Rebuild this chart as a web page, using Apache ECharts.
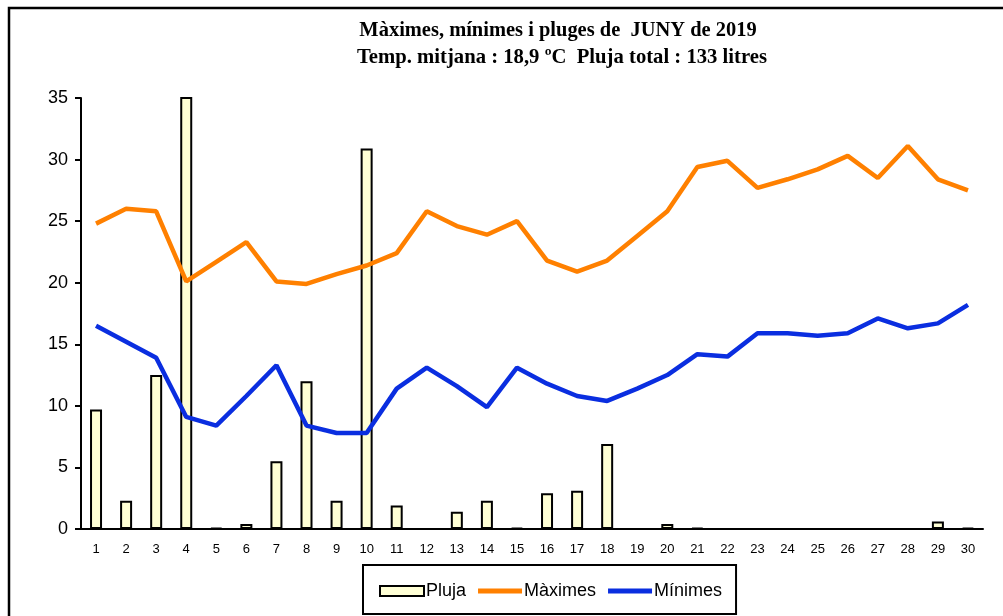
<!DOCTYPE html>
<html>
<head>
<meta charset="utf-8">
<script src="https://cdn.jsdelivr.net/npm/echarts@6/dist/echarts.min.js"></script>
<style>
  html, body { margin: 0; padding: 0; background: #fff; }
  #chart { width: 1003px; height: 616px; }
</style>
</head>
<body>
<div id="chart"></div>
<script>
// dies del mes
const dies = ['1','2','3','4','5','6','7','8','9','10','11','12','13','14','15',
  '16','17','18','19','20','21','22','23','24','25','26','27','28','29','30']
// pluja (litres)
const pluja = [9.7, 2.3, 12.5, 37.5, 0.1, 0.4, 5.5, 12.0, 2.3, 30.9, 1.9, 0, 1.4, 2.3, 0.1,
  2.9, 3.1, 6.9, 0, 0.4, 0.1, 0, 0, 0, 0, 0, 0, 0, 0.6, 0.1]
// temperatures maximes
const maximes = [24.8, 26.0, 25.8, 20.1, 21.7, 23.3, 20.1, 19.9, 20.7, 21.4, 22.4, 25.8, 24.6, 23.9, 25.0,
  21.8, 20.9, 21.8, 23.8, 25.8, 29.4, 29.9, 27.7, 28.4, 29.2, 30.3, 28.5, 31.1, 28.4, 27.5]
// temperatures minimes
const minimes = [16.5, 15.2, 13.9, 9.1, 8.4, 10.8, 13.3, 8.4, 7.8, 7.8, 11.4, 13.1, 11.6, 9.9, 13.1,
  11.8, 10.8, 10.4, 11.4, 12.5, 14.2, 14.0, 15.9, 15.9, 15.7, 15.9, 17.1, 16.3, 16.7, 18.2]

const titol1 = 'Màximes, mínimes i pluges de  JUNY de 2019'
const titol2 = 'Temp. mitjana : 18,9 ºC  Pluja total : 133 litres'

const titleFont = 'bold 22px "Liberation Serif"'
// icona de linia per a la llegenda (5px d'alt)
const lineIcon = 'path://M0,0H88V10H0Z'

const chart = echarts.init(document.getElementById('chart'))

const option = {
  animation: false,
  graphic: [
    {
      type: 'rect',
      shape: { x: 9, y: 8, width: 1010, height: 630 },
      style: { fill: 'none', stroke: '#000', lineWidth: 2.5 },
      silent: true
    },
    {
      type: 'text',
      x: 558, y: 30,
      scaleX: 0.93,
      style: { text: titol1, font: titleFont, fill: '#000', align: 'center', verticalAlign: 'middle' }
    },
    {
      type: 'text',
      x: 562, y: 57,
      scaleX: 0.94,
      style: { text: titol2, font: titleFont, fill: '#000', align: 'center', verticalAlign: 'middle' }
    }
  ],
  legend: {
    left: 363,
    top: 565,
    padding: [17, 14, 14, 16],
    borderColor: '#000',
    borderWidth: 2,
    itemWidth: 44,
    itemHeight: 10,
    itemGap: 12,
    textStyle: { fontFamily: 'Liberation Sans', fontSize: 18, color: '#000', padding: [0, 0, 0, -3] },
    data: [
      { name: 'Pluja', icon: 'rect' },
      { name: 'Màximes', icon: lineIcon },
      { name: 'Mínimes', icon: lineIcon }
    ]
  },
  grid: { left: 81, right: 20, top: 98, bottom: 87 },
  xAxis: {
    type: 'category',
    data: dies,
    axisLine: { lineStyle: { color: '#000', width: 2 } },
    axisTick: { length: 6, lineStyle: { color: '#000', width: 2 } },
    axisLabel: { color: '#000', fontFamily: 'Liberation Sans', fontSize: 13, margin: 14 }
  },
  yAxis: {
    type: 'value',
    min: 0,
    max: 35,
    interval: 5,
    splitLine: { show: false },
    axisLine: { show: true, lineStyle: { color: '#000', width: 2 } },
    axisTick: { show: true, length: 6, lineStyle: { color: '#000', width: 2 } },
    axisLabel: { color: '#000', fontFamily: 'Liberation Sans', fontSize: 18, margin: 13 }
  },
  series: [
    {
      name: 'Pluja',
      type: 'bar',
      data: pluja,
      barWidth: 12,
      clip: true,
      itemStyle: { color: '#ffffd5', borderColor: '#000', borderWidth: 2 }
    },
    {
      name: 'Màximes',
      type: 'line',
      data: maximes,
      symbol: 'none',
      lineStyle: { color: '#ff8000', width: 4.5 },
      itemStyle: { color: '#ff8000' }
    },
    {
      name: 'Mínimes',
      type: 'line',
      data: minimes,
      symbol: 'none',
      lineStyle: { color: '#0a2ee0', width: 4.5 },
      itemStyle: { color: '#0a2ee0' }
    }
  ]
}

chart.setOption(option)
</script>
</body>
</html>
